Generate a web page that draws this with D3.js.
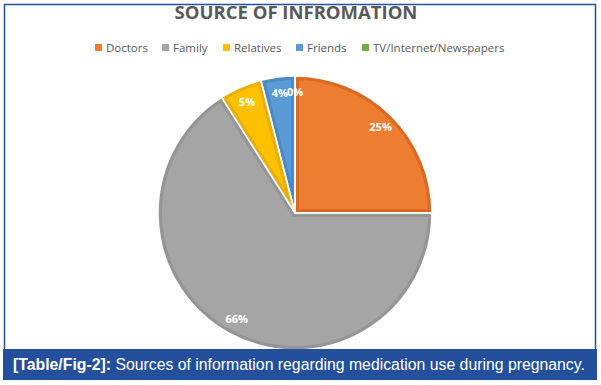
<!DOCTYPE html>
<html>
<head>
    <meta charset="utf-8">
    <title>Source of information</title>
    <script src="https://d3js.org/d3.v7.min.js"></script>
    <style>
        body { margin: 0; background: #fff; }
        svg text { font-family: 'Open Sans', 'Noto Sans', sans-serif; }
        .caption { font-family: 'Liberation Sans', Arial, sans-serif; }
    </style>
</head>
<body>
    <svg id="chart" width="601" height="385"></svg>
    <script>
        const categories = ["Doctors", "Family", "Relatives", "Friends", "TV/Internet/Newspapers"];
        const values = [25, 66, 5, 4, 0];
        const colors = ["#ED7D31", "#A5A5A5", "#FFC000", "#5B9BD5", "#70AD47"];
        const edgeColors = ["#D86A24", "#959595", "#E8AE0C", "#4C8AC4", "#5F9A3A"];

        const width = 601, height = 385;
        const cx = 295, cy = 213, radius = 137;

        let svg = d3.select("#chart");

        // outer frame
        svg.append("rect")
            .attr("x", 4.5).attr("y", 4.5)
            .attr("width", 591).attr("height", 360)
            .attr("fill", "#fff")
            .attr("stroke", "#234f9c")
            .attr("stroke-width", 1.5)

        svg.append("text")
            .attr("x", 296).attr("y", 19)
            .attr("text-anchor", "middle")
            .attr("font-size", 18.5)
            .attr("font-weight", "bold")
            .attr("fill", "#595959")
            .text("SOURCE OF INFROMATION")

        // legend
        const legendX = [95, 162, 223, 296, 362];
        let legend = svg.selectAll("g.legend")
            .data(categories)
            .enter().append("g")
            .attr("class", "legend")
            .attr("transform", (d, i) => `translate(${legendX[i]},48)`)
        legend.append("rect")
            .attr("x", 0).attr("y", -4)
            .attr("width", 7).attr("height", 7)
            .attr("fill", (d, i) => colors[i])
        legend.append("text")
            .attr("x", 11).attr("y", 0)
            .attr("dy", "0.35em")
            .attr("font-size", 11.5)
            .attr("fill", "#595959")
            .text(d => d)

        // pie
        let pie = d3.pie().sort(null).value(d => d)
        let arcs = pie(values)
        let arc = d3.arc().innerRadius(0).outerRadius(radius)
        let labelArc = d3.arc().innerRadius(121).outerRadius(121)

        let g = svg.append("g").attr("transform", `translate(${cx},${cy})`)
        let defs = svg.append("defs")

        arcs.forEach((a, i) => {
            defs.append("clipPath")
                .attr("id", "clip" + i)
                .append("path")
                .attr("d", arc(a))
        })

        g.selectAll("path.slice")
            .data(arcs)
            .enter().append("path")
            .attr("class", "slice")
            .attr("d", arc)
            .attr("clip-path", (d, i) => `url(#clip${i})`)
            .attr("fill", (d, i) => colors[i])
            .attr("stroke", (d, i) => edgeColors[i])
            .attr("stroke-width", 8)

        g.selectAll("path.gap")
            .data(arcs.filter(d => d.value > 0))
            .enter().append("path")
            .attr("class", "gap")
            .attr("d", arc)
            .attr("fill", "none")
            .attr("stroke", "#fff")
            .attr("stroke-width", 1.5)

        g.selectAll("text.lbl")
            .data(arcs)
            .enter().append("text")
            .attr("class", "lbl")
            .attr("transform", d => `translate(${labelArc.centroid(d)})`)
            .attr("text-anchor", "middle")
            .attr("dy", "0.35em")
            .attr("font-size", 11)
            .attr("font-weight", "bold")
            .attr("fill", "#fff")
            .text(d => d.value + "%")

        // caption bar
        svg.append("rect")
            .attr("x", 3).attr("y", 349)
            .attr("width", 594).attr("height", 31)
            .attr("fill", "#234f9c")

        let cap = svg.append("text")
            .attr("class", "caption")
            .attr("x", 13).attr("y", 370)
            .attr("font-size", 15.8)
            .attr("fill", "#fff")
        cap.append("tspan").attr("font-weight", "bold").text("[Table/Fig-2]:")
        cap.append("tspan").text(" Sources of information regarding medication use during pregnancy.")
    </script>
</body>
</html>
